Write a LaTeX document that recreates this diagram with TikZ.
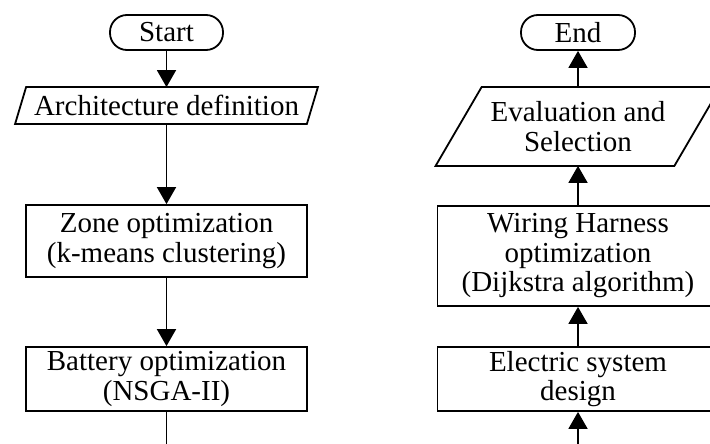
\documentclass[tikz,border=0pt]{standalone}
\usepackage{fontspec}
\setmainfont{Liberation Serif}
\usepackage{tikz}
\usetikzlibrary{arrows.meta}

\begin{document}
\begin{tikzpicture}[
  x=1pt, y=-1pt,
  font=\fontsize{29}{29.5}\selectfont,
  line width=1.8pt,
  box/.style={draw, minimum width=281pt, align=center, inner sep=1pt},
  term/.style={draw, rounded corners=17pt, minimum height=35pt, align=center},
  io/.style={align=center, inner sep=1pt},
  arr/.style={-{Triangle[length=17pt, width=19pt]}}
]
\useasboundingbox (0,0) rectangle (710,444);
% left column
\node[term, minimum width=113pt] (start) at (166.5,32.5) {Start};
\node[io, minimum width=290pt, minimum height=35pt] (arch) at (166.5,105.5) {Architecture definition};
\draw ([xshift=-5.5pt]arch.south west) -- ([xshift=5.5pt]arch.north west)
  -- ([xshift=5.5pt]arch.north east) -- ([xshift=-5.5pt]arch.south east) -- cycle;
\node[box, minimum height=72pt] (zone) at (166.5,241) {Zone optimization\\(k-means clustering)};
\node[box, minimum height=64pt] (batt) at (166.5,379) {Battery optimization\\(NSGA-II)};
\coordinate (battout) at (166.5,444);
% right column
\node[term, minimum width=114pt] (end) at (578,32.5) {End};
\node[io, minimum width=237pt, minimum height=77pt] (eval) at (578,126.5) {Evaluation and\\Selection};
\draw ([xshift=-23pt]eval.south west) -- ([xshift=23pt]eval.north west)
  -- ([xshift=23pt]eval.north east) -- ([xshift=-23pt]eval.south east) -- cycle;
\node[box, minimum height=100pt] (wire) at (578,256) {Wiring Harness\\optimization\\(Dijkstra algorithm)};
\node[box, minimum height=64pt] (elec) at (578,379) {Electric system\\design};
\coordinate (elecin) at (578,444);
\draw[arr] (start) -- (arch);
\draw[arr] (arch) -- (zone);
\draw[arr] (zone) -- (batt);
\draw (batt) -- (battout);
\draw[arr] (elecin) -- (elec);
\draw[arr] (elec) -- (wire);
\draw[arr] (wire) -- (eval);
\draw[arr] (eval) -- (end);
\end{tikzpicture}
\end{document}
